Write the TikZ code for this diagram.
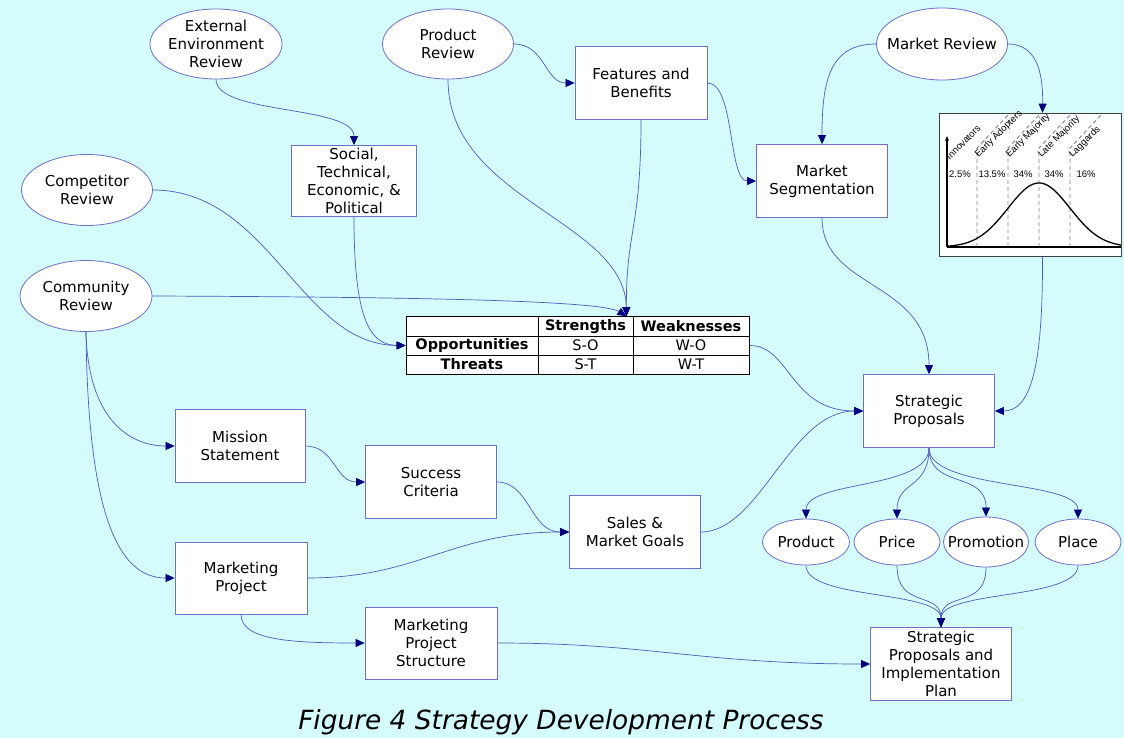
\documentclass[tikz,border=0pt]{standalone}
\usepackage{fontspec}
\setmainfont{DejaVu Sans}[ItalicFont={DejaVu Sans Oblique},BoldFont={DejaVu Sans Bold}]
\newfontfamily\chartfont{Liberation Sans}
\usetikzlibrary{shapes.geometric,arrows.meta}
\definecolor{bgc}{RGB}{212,252,252}
\definecolor{nodeline}{RGB}{110,110,200}
\definecolor{edgec}{RGB}{80,90,185}
\definecolor{tipc}{RGB}{0,0,128}
\begin{document}
\begin{tikzpicture}[x=1pt,y=-1pt,
  txt/.style={font=\fontsize{15pt}{17.8pt}\selectfont, align=center},
  box/.style={draw=nodeline, line width=0.8pt, fill=white, rectangle, inner sep=0pt, txt},
  oval/.style={draw=nodeline, line width=0.8pt, fill=white, ellipse, inner sep=0pt},
  link/.style={draw=edgec, line width=0.7pt, -{Triangle[length=9pt,width=8pt,color=tipc]}},
  cell/.style={draw=black, line width=0.8pt, fill=white, rectangle, inner sep=0pt, font=\fontsize{14.5pt}{16pt}\selectfont},
  hcell/.style={cell, font=\fontsize{14.5pt}{16pt}\selectfont\bfseries},
  chartlbl/.style={font=\chartfont\fontsize{9.5pt}{10pt}\selectfont, inner sep=0.3pt},
  dashln/.style={draw=gray, line width=0.9pt, dash pattern=on 4pt off 3pt},
]
\fill[bgc] (0,0) rectangle (1124,738);
\useasboundingbox (0,0) rectangle (1124,738);

% ellipses
\node[oval, minimum width=132pt, minimum height=70pt, label={[txt]center:External\\Environment\\Review}] (ext) at (216,44) {};
\node[oval, minimum width=131pt, minimum height=70pt, label={[txt]center:Product\\Review}] (prod) at (448,44) {};
\node[oval, minimum width=131pt, minimum height=72pt, label={[txt]center:Market Review}] (mkt) at (942,44) {};
\node[oval, minimum width=131pt, minimum height=71pt, label={[txt]center:Competitor\\Review}] (comp) at (87,190) {};
\node[oval, minimum width=132pt, minimum height=71pt, label={[txt]center:Community\\Review}] (comm) at (86,296) {};
\node[oval, minimum width=87pt, minimum height=46pt, label={[txt]center:Product}] (pprod) at (806,542) {};
\node[oval, minimum width=86pt, minimum height=46pt, label={[txt]center:Price}] (pprice) at (897,542) {};
\node[oval, minimum width=85pt, minimum height=50pt, label={[txt]center:Promotion}] (pprom) at (986,542) {};
\node[oval, minimum width=86pt, minimum height=46pt, label={[txt]center:Place}] (pplace) at (1078,542) {};

% boxes
\node[box, minimum width=132pt, minimum height=73pt] (feat) at (641,83) {Features and\\Benefits};
\node[box, minimum width=131pt, minimum height=73pt] (seg) at (822,181) {Market\\Segmentation};
\node[box, minimum width=125pt, minimum height=71pt] (soc) at (354,181) {Social,\\Technical,\\Economic, \&\\Political};
\node[box, minimum width=131pt, minimum height=73pt] (sp) at (929,411) {Strategic\\Proposals};
\node[box, minimum width=141pt, minimum height=73pt] (spip) at (941,664) {Strategic\\Proposals and\\Implementation\\Plan};
\node[box, minimum width=130pt, minimum height=73pt] (mis) at (240,446) {Mission\\Statement};
\node[box, minimum width=131pt, minimum height=73pt] (succ) at (431,482) {Success\\Criteria};
\node[box, minimum width=131pt, minimum height=73pt] (sales) at (635,532) {Sales \&\\Market Goals};
\node[box, minimum width=132pt, minimum height=72pt] (mproj) at (241,578) {Marketing\\Project};
\node[box, minimum width=132pt, minimum height=72pt] (mps) at (431,643) {Marketing\\Project\\Structure};

% SWOT table
\node[cell, minimum width=132pt, minimum height=20pt] (corner) at (472,326) {};
\node[hcell, minimum width=95pt, minimum height=20pt] (hs) at (585.5,326.5) {Strengths};
\node[hcell, minimum width=116pt, minimum height=20pt] (hw) at (691,326.5) {Weaknesses};
\node[hcell, minimum width=132pt, minimum height=19pt] (opp) at (472,345.5) {Opportunities};
\node[cell, minimum width=95pt, minimum height=19pt] (so) at (585.5,345.5) {S-O};
\node[cell, minimum width=116pt, minimum height=19pt] (wo) at (691,345.5) {W-O};
\node[hcell, minimum width=132pt, minimum height=19pt] (thr) at (472,364.5) {Threats};
\node[cell, minimum width=95pt, minimum height=19pt] (st) at (585.5,364.5) {S-T};
\node[cell, minimum width=116pt, minimum height=19pt] (wt) at (691,364.5) {W-T};

% adoption chart
\node[draw=black!75, line width=0.6pt, fill=white, minimum width=182pt, minimum height=143pt, inner sep=0pt] (chart) at (1030,184.5) {};
\draw[dashln] (977,247) -- (977,148) -- (1010,113);
\draw[dashln] (1008,247) -- (1008,148) -- (1041,113);
\draw[dashln] (1039,247) -- (1039,148) -- (1072,113);
\draw[dashln] (1070,247) -- (1070,148) -- (1103,113);
\draw[line width=1.2pt, -{Stealth[length=5pt,width=4pt]}] (947,247) -- (947,136);
\draw[line width=1.2pt] (947,247) -- (1121,247);
\draw[line width=1.3pt] plot[domain=947:1121,samples=90,smooth] (\x,{247-64*exp(-0.5*((\x-1039)/31)^2)});
\node[chartlbl, rotate=45, anchor=south west] (l1) at (950,161) {Innovators};
\node[chartlbl, rotate=45, anchor=south west] (l2) at (980,160) {Early Adopters};
\node[chartlbl, rotate=45, anchor=south west] (l3) at (1011,160) {Early Majority};
\node[chartlbl, rotate=45, anchor=south west] (l4) at (1043,160) {Late Majority};
\node[chartlbl, rotate=45, anchor=south west] (l5) at (1074,160) {Laggards};
\node[chartlbl] (p1) at (960,174) {2.5\%};
\node[chartlbl] (p2) at (992,174) {13.5\%};
\node[chartlbl] (p3) at (1023,174) {34\%};
\node[chartlbl] (p4) at (1054,174) {34\%};
\node[chartlbl] (p5) at (1086,174) {16\%};

% caption
\node[font=\fontsize{26.4pt}{30pt}\selectfont\itshape, anchor=base, inner sep=0pt] (cap) at (561,729) {Figure 4 Strategy Development Process};

% connectors
\draw[link] (ext.south) .. controls (216,115) and (354,105) .. (soc.north);
\draw[link] (prod.south) .. controls (448,200) and (625,220) .. ([xshift=-7pt]hs.north east);
\draw[link] (prod.east) .. controls (545,44) and (545,83) .. (feat.west);
\draw[link] (feat.south) .. controls (641,230) and (626,230) .. ([xshift=-7pt]hs.north east);
\draw[link] (feat.east) .. controls (735,83) and (728,181) .. (seg.west);
\draw[link] (mkt.west) .. controls (830,44) and (822,80) .. (seg.north);
\draw[link] (mkt.east) .. controls (1040,44) and (1043,80) .. ([xshift=12.5pt]chart.north);
\draw[link] ([xshift=12.5pt]chart.south) .. controls (1043,370) and (1030,411) .. (sp.east);
\draw[link] (seg.south) .. controls (822,290) and (929,280) .. (sp.north);
\draw[link] (comp.east) .. controls (270,190) and (300,345) .. (opp.west);
\draw[link] (soc.south) .. controls (354,320) and (370,345) .. (opp.west);
\draw[link] (comm.east) .. controls (400,297) and (600,300) .. ([xshift=-7pt]hs.north east);
\draw[link] (comm.south) .. controls (88,420) and (130,446) .. (mis.west);
\draw[link] (comm.south) .. controls (88,520) and (120,578) .. (mproj.west);
\draw[link] (mis.east) .. controls (335,446) and (335,482) .. (succ.west);
\draw[link] (succ.east) .. controls (530,482) and (530,532) .. (sales.west);
\draw[link] (mproj.east) .. controls (420,578) and (450,532) .. (sales.west);
\draw[link] (mproj.south) .. controls (241,640) and (290,643) .. (mps.west);
\draw[link] (mps.east) .. controls (650,643) and (700,664) .. (spip.west);
\draw[link] (sales.east) .. controls (760,532) and (790,411) .. (sp.west);
\draw[link] (wo.east) .. controls (790,345) and (790,411) .. (sp.west);
\draw[link] (sp.south) .. controls (929,490) and (806,480) .. (pprod.north);
\draw[link] (sp.south) .. controls (929,490) and (897,480) .. (pprice.north);
\draw[link] (sp.south) .. controls (929,490) and (986,470) .. (pprom.north);
\draw[link] (sp.south) .. controls (929,490) and (1078,480) .. (pplace.north);
\draw[link] (pprod.south) .. controls (806,600) and (941,590) .. (spip.north);
\draw[link] (pprice.south) .. controls (897,610) and (941,590) .. (spip.north);
\draw[link] (pprom.south) .. controls (986,610) and (941,590) .. (spip.north);
\draw[link] (pplace.south) .. controls (1078,600) and (941,590) .. (spip.north);
\end{tikzpicture}
\end{document}
